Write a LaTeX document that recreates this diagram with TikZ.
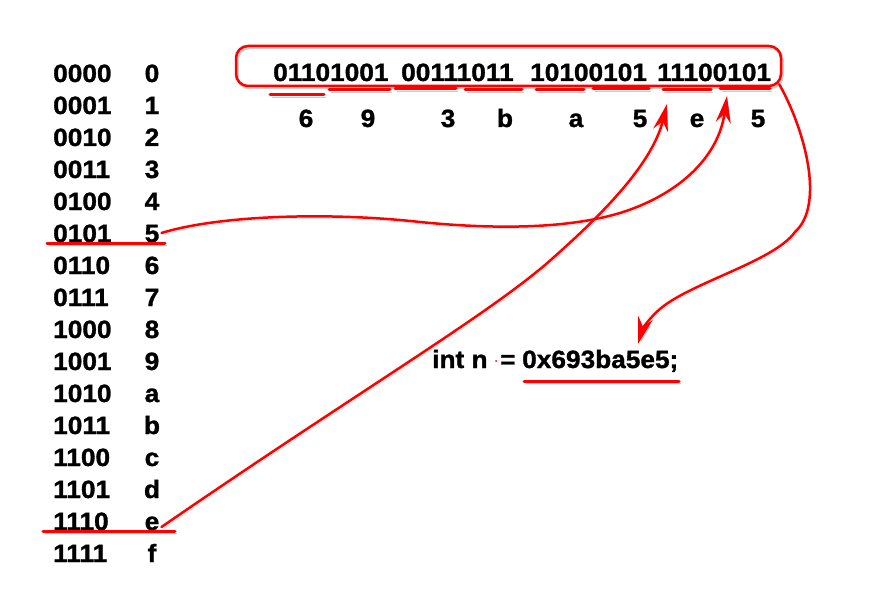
\documentclass[tikz,border=0pt]{standalone}
\usepackage{fontspec}
\setmainfont{Liberation Sans}[FakeBold=1.2,FakeStretch=1.05]
\usetikzlibrary{arrows.meta}
\tikzset{
  txt/.style={inner sep=0pt, text height=18pt, text depth=0pt, font=\fontsize{25}{30}\selectfont\bfseries},
  shad/.style={preaction={draw=black!45, opacity=0.45, transform canvas={shift={(1.5pt,-2pt)}}}},
  redline/.style={draw=red, line width=2.5pt, line cap=round, shad},
  uline/.style={draw=red, line width=3pt, line cap=round, shad},
  redarrow/.style={redline, -{Stealth[length=27pt,width=15pt,inset=9pt]}},
}
\begin{document}
\begin{tikzpicture}[x=1pt,y=-1pt]
\path[use as bounding box, fill=white] (0,0) rectangle (891,591);

% table
\foreach \b/\h [count=\i from 0] in {0000/0,0001/1,0010/2,0011/3,0100/4,0101/5,0110/6,0111/7,1000/8,1001/9,1010/a,1011/b,1100/c,1101/d,1110/e,1111/f} {
  \node[txt, anchor=west] (b\i) at (53,{73+32*\i}) {\b};
  \node[txt] (h\i) at (152,{73+32*\i}) {\h};
}

% box with binary number
\node[redline, rounded corners=12pt, minimum width=545pt, minimum height=40pt, inner sep=0pt] (box) at (508.5,66) {};
\node[txt, anchor=west] (g1) at (273,72) {01101001};
\node[txt, anchor=west] (g2) at (401,72) {00111011};
\node[txt, anchor=west] (g3) at (530,72) {10100101};
\node[txt, anchor=west] (g4) at (657,72) {11100101};

% underlines under nibbles
\draw[uline] (270,95) -- (324,95);
\draw[uline] (329,90) -- (390,90);
\draw[uline] (395,89) -- (456,89);
\draw[uline] (465,90) -- (522,90);
\draw[uline] (536,90) -- (584,90);
\draw[uline] (593,89) -- (649,89);
\draw[uline] (663,90) -- (711,90);
\draw[uline] (720,89) -- (770,89);

% hex digits
\node[txt] (x1) at (306,118) {6};
\node[txt] (x2) at (368,118) {9};
\node[txt] (x3) at (448,118) {3};
\node[txt] (x4) at (505,118) {b};
\node[txt] (x5) at (576,118) {a};
\node[txt] (x6) at (640,118) {5};
\node[txt] (x7) at (697,118) {e};
\node[txt] (x8) at (758,118) {5};

% declaration
\node[txt, anchor=west] (decl) at (432,359) {int n};
\node[txt, anchor=west] (eq) at (500,359) {=};
\node[txt, anchor=west] (val) at (522,359) {0x693ba5e5;};
\fill[red] (496,361) circle (1);
\draw[uline] (524,381) -- (679,381);

% table underlines
\draw[uline] (47,243) -- (165,243);
\draw[uline] (43,531) -- (175,531);

% arrow tips
\coordinate (tipE) at (727,96);
\coordinate (tipF) at (667,104);
\coordinate (tipV) at (638,344);

% arrows
\draw[redarrow] ([xshift=2pt]h5.east) .. controls (220,215) and (330,212) .. (420,222)
   .. controls (500,230) and (570,228) .. (620,213)
   .. controls (675,196) and (718,160) .. (tipE);
\draw[redarrow] ([xshift=2pt,yshift=-6pt]h14.east) .. controls (350,397) and (480,320) .. (545,265)
   .. controls (600,217) and (652,165) .. (tipF);
\draw[redarrow] ([shift={(-3pt,3pt)}]box.south east) .. controls (805,130) and (825,205) .. (795,232)
   .. controls (775,260) and (700,280) .. (665,305)
   .. controls (650,316) and (642,330) .. (tipV);
\end{tikzpicture}
\end{document}
